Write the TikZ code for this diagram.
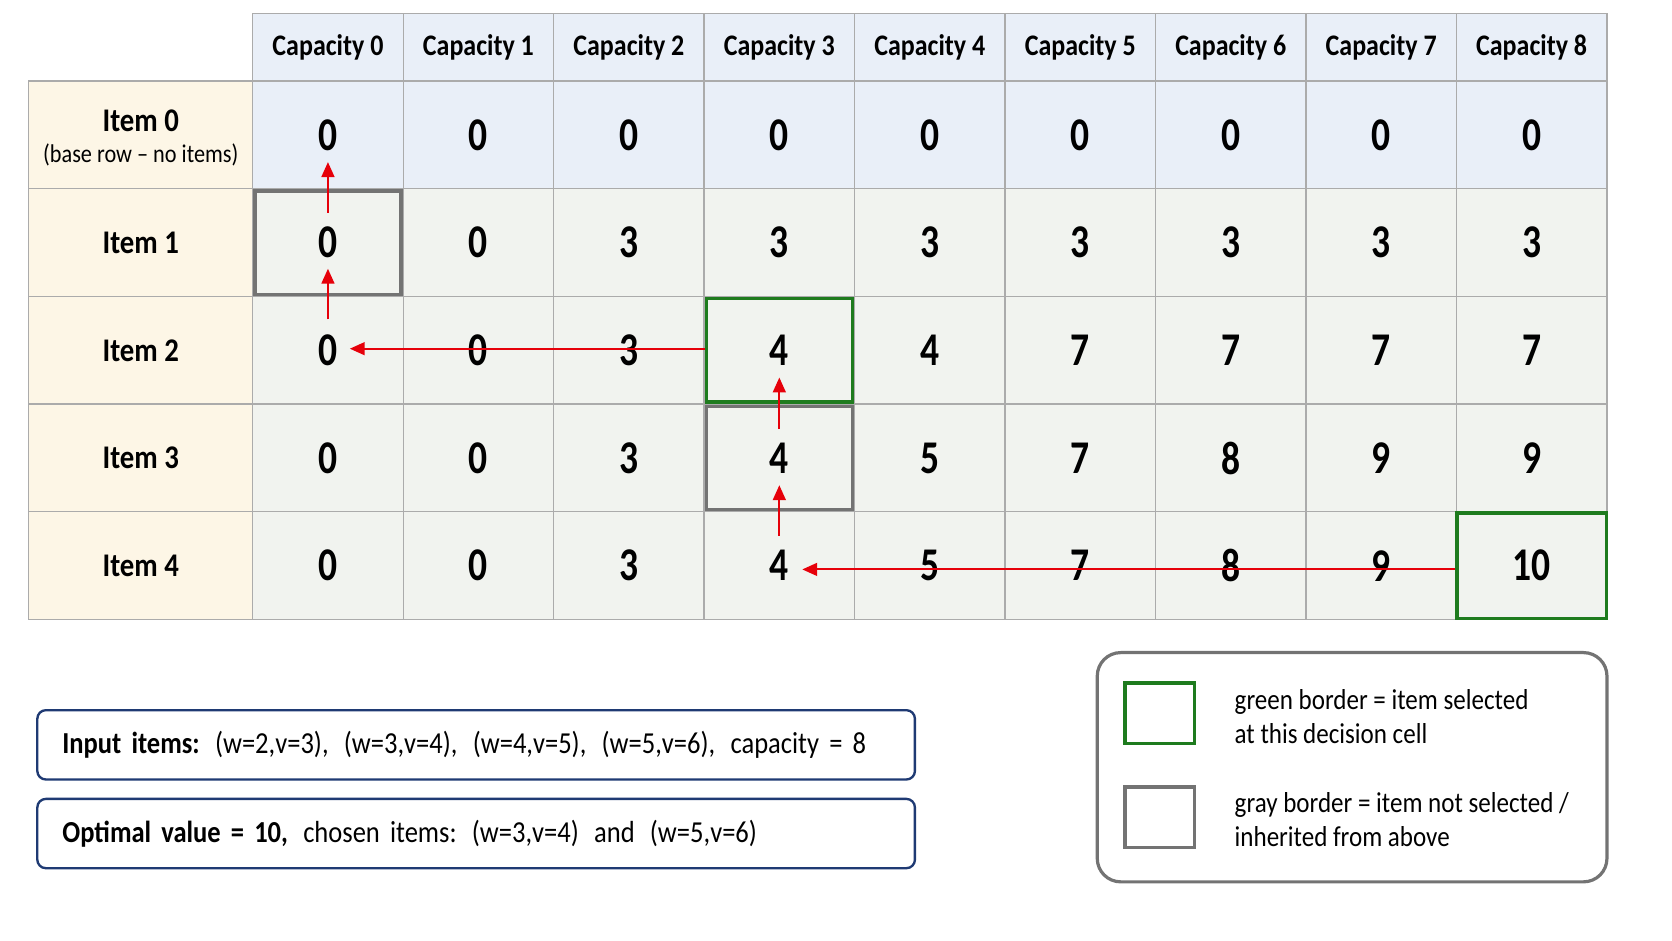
\documentclass[tikz,border=0pt]{standalone}
\usepackage{fontspec}
\setmainfont{Carlito}[FakeStretch=0.87]
\newfontfamily\numfont{Carlito}[FakeStretch=0.8]
\usetikzlibrary{positioning,calc,arrows.meta}
\definecolor{hdrblue}{HTML}{E9EFF8}
\definecolor{itemcream}{HTML}{FDF6E6}
\definecolor{cellgray}{HTML}{F1F3EF}
\definecolor{gridgray}{HTML}{ABABAB}
\definecolor{selgreen}{HTML}{1E7B1E}
\definecolor{skipgray}{HTML}{737373}
\definecolor{boxblue}{HTML}{1F3A73}
\definecolor{trace}{HTML}{E6000A}
\tikzset{
	cell/.style={draw=gridgray, line width=0.6pt, fill=cellgray, minimum width=70.55pt, minimum height=50.5pt, inner sep=0pt, font=\numfont\fontsize{22}{24}\selectfont\bfseries},
	head/.style={cell, fill=hdrblue, minimum height=31.5pt, font=\fontsize{14}{16}\selectfont\bfseries},
	rowlabel/.style={cell, fill=itemcream, minimum width=105pt, align=center, font=\fontsize{15.5}{16}\selectfont\bfseries},
	taken/.style={draw=selgreen, line width=1.6pt, minimum width=68.5pt, minimum height=48.5pt, inner sep=0pt},
	kept/.style={taken, draw=skipgray},
	back/.style={-{Triangle[length=7pt,width=6pt]}, trace, line width=1pt},
	infobox/.style={draw=boxblue, line width=1.1pt, rounded corners=4pt, minimum width=411.5pt, minimum height=32.5pt, text width=388pt, align=left, inner xsep=11.5pt, font=\fontsize{14.3}{16}\selectfont},
	keybox/.style={line width=1.5pt, minimum width=32.5pt, minimum height=28.5pt, inner sep=0pt},
	keytext/.style={inner sep=0pt, align=left, font=\fontsize{13.5}{16}\selectfont}
}
\begin{document}
\begin{tikzpicture}[x=0.5pt,y=-0.5pt]
	\useasboundingbox (0,0) rectangle (1568,882);
	
	% header row
	\foreach \j in {0,...,8}
		\node[head] (h-\j) at ({237+141.1*(\j+0.5)},44.5) {Capacity \j};
	
	% row labels
	\node[rowlabel] (r-0) at (132,126.5) {};
	\node[align=center, inner sep=0pt, font=\fontsize{15.5}{16}\selectfont\bfseries] (r-0-text) at ([yshift=-1.5pt]r-0.center) {Item 0\\[-1.5pt]{\fontsize{12}{14}\selectfont\mdseries (base row -- no items)}};
	\foreach \i in {1,...,4}
		\node[rowlabel] (r-\i) at (132,{76+101*(\i+0.5)}) {Item \i};
	
	% table values
	\foreach \i/\rowfill/\vals in {0/hdrblue/{0,0,0,0,0,0,0,0,0},
			1/cellgray/{0,0,3,3,3,3,3,3,3},
			2/cellgray/{0,0,3,4,4,7,7,7,7},
			3/cellgray/{0,0,3,4,5,7,8,9,9},
			4/cellgray/{0,0,3,4,5,7,8,9,10}}
		\foreach \v [count=\j from 0] in \vals
			\node[cell, fill=\rowfill] (c-\i-\j) at ({237+141.1*(\j+0.5)},{76+101*(\i+0.5)}) {\v};
	
	% decision cells
	\node[kept] (k-1-0) at (c-1-0) {};
	\node[taken] (g-2-3) at (c-2-3) {};
	\node[kept] (k-3-3) at (c-3-3) {};
	\node[taken, minimum width=70pt, minimum height=49.5pt] (g-4-8) at (c-4-8) {};
	
	% trace back
	\draw[back] ([yshift=-11.5pt]c-1-0.north) -- ([yshift=-12.75pt]c-0-0.center);
	\draw[back] ([yshift=-11pt]c-2-0.north) -- ([yshift=-12.25pt]c-1-0.center);
	\draw[back] ([yshift=0.75pt]g-2-3.west) -- ([xshift=10.25pt,yshift=0.75pt]c-2-0.center);
	\draw[back] ([yshift=-12pt]c-3-3.north) -- ([yshift=-12.75pt]c-2-3.center);
	\draw[back] ([yshift=-11.5pt]c-4-3.north) -- ([yshift=-12.75pt]c-3-3.center);
	\draw[back] ([yshift=-1.75pt]g-4-8.west) -- ([xshift=10.75pt,yshift=-1.75pt]c-4-3.center);
	
	% notes
	\node[infobox] (inp) at (446.5,698.5) {\textbf{Input items:}\ \,(w=2,v=3),\ \,(w=3,v=4),\ \,(w=4,v=5),\ \,(w=5,v=6),\ \,capacity = 8};
	\node[infobox, below=8pt of inp] (opt) {\textbf{Optimal value = 10,}\ \,chosen items:\ \,(w=3,v=4)\ \,and\ \,(w=5,v=6)};
	
	% legend
	\node[draw=skipgray, line width=1.5pt, rounded corners=11pt, minimum width=239pt, minimum height=107.5pt] (legend) at (1268,719.5) {};
	\node[keybox, draw=selgreen] (key-sel) at (1087.5,669) {};
	\node[keybox, draw=skipgray] (key-skip) at (1087.5,766.5) {};
	\node[keytext, anchor=west, right=18pt of key-sel, yshift=-1.5pt] (t-sel) {green border = item selected\\at this decision cell};
	\node[keytext, anchor=west, right=18pt of key-skip, yshift=-1pt] (t-skip) {gray border = item not selected /\\inherited from above};
\end{tikzpicture}
\end{document}
